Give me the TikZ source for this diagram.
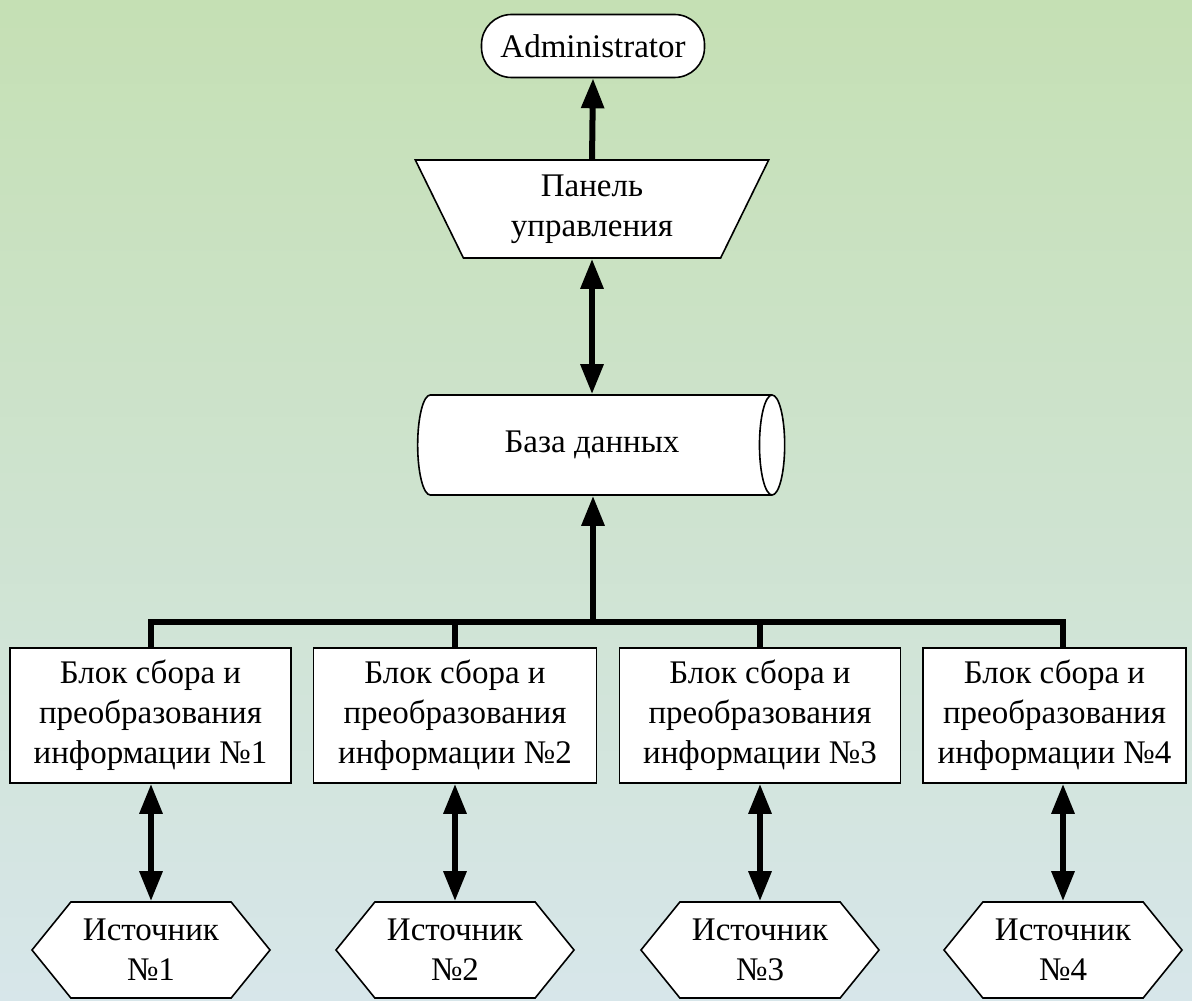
\documentclass[tikz,border=0pt]{standalone}
\usepackage{fontspec}
\setmainfont{Liberation Serif}
\usetikzlibrary{shapes.geometric, shapes.symbols, arrows.meta}

\definecolor{bgtop}{RGB}{197,224,180}
\definecolor{bgbot}{RGB}{215,230,234}

\begin{document}
\begin{tikzpicture}[x=0.5pt, y=-0.5pt,
    every node/.style={font=\fontsize{16.5}{20}\selectfont, align=center, inner sep=2pt},
    boxed/.style={draw, line width=0.8pt, fill=white},
    link/.style={line width=3pt, -{Triangle[length=15pt,width=11pt]}},
    dlink/.style={line width=3pt, {Triangle[length=15pt,width=11pt]}-{Triangle[length=15pt,width=11pt]}},
    bus/.style={line width=3pt},
    source/.style={boxed, signal, signal to=west and east, signal pointer angle=102,
                   minimum width=119pt, minimum height=48pt}]
      \useasboundingbox (0,0) rectangle (1192,1000);
      \shade[top color=bgtop, bottom color=bgbot] (0,0) rectangle (1192,1000);

        % upper part
        \node[boxed, rounded corners=15pt, minimum width=111.5pt, minimum height=31.5pt] (admin) at (593,46) {Administrator};
        \node[boxed, trapezium, shape border rotate=180, trapezium angle=67.5, trapezium stretches=true,
              minimum width=177pt, minimum height=49pt] (panel) at (592,209) {Панель\\управления};
        \node[boxed, cylinder, aspect=0.7, cylinder uses custom fill, cylinder body fill=white, cylinder end fill=white,
              minimum width=50pt, minimum height=183.5pt] (db) at (592,445) {База данных};

        % blocks
        \node[boxed, minimum width=140.5pt, minimum height=67.5pt] (b1) at (150.5,715.5) {Блок сбора и\\преобразования\\информации №1};
        \node[boxed, minimum width=141.5pt, minimum height=67.5pt] (b2) at (455,715.5) {Блок сбора и\\преобразования\\информации №2};
        \node[boxed, minimum width=140.5pt, minimum height=67.5pt] (b3) at (760,715.5) {Блок сбора и\\преобразования\\информации №3};
        \node[boxed, minimum width=131.5pt, minimum height=67.5pt] (b4) at (1054.5,715.5) {Блок сбора и\\преобразования\\информации №4};

        % sources
        \node[source] (s1) at (151,950) {Источник\\№1};
        \node[source] (s2) at (455,950) {Источник\\№2};
        \node[source] (s3) at (760,950) {Источник\\№3};
        \node[source] (s4) at (1063,950) {Источник\\№4};

        \coordinate (busc) at (593,622);
        \coordinate (busr) at (1063,622);

        % connectors
        \draw[link] (panel.north) -- (admin.south);
        \draw[dlink] (panel.south) -- (panel.south |- db.north);
        \draw[link] (busc) -- (busc |- db.south);
        \draw[bus] (b1.north) |- (busr) -- (busr |- b4.north);
        \draw[bus] (b2.north) -- (b2.north |- busr);
        \draw[bus] (b3.north) -- (b3.north |- busr);

        \draw[dlink] (s1.north) -- (s1.north |- b1.south);
        \draw[dlink] (s2.north) -- (s2.north |- b2.south);
        \draw[dlink] (s3.north) -- (s3.north |- b3.south);
        \draw[dlink] (s4.north) -- (s4.north |- b4.south);
      \end{tikzpicture}
\end{document}
